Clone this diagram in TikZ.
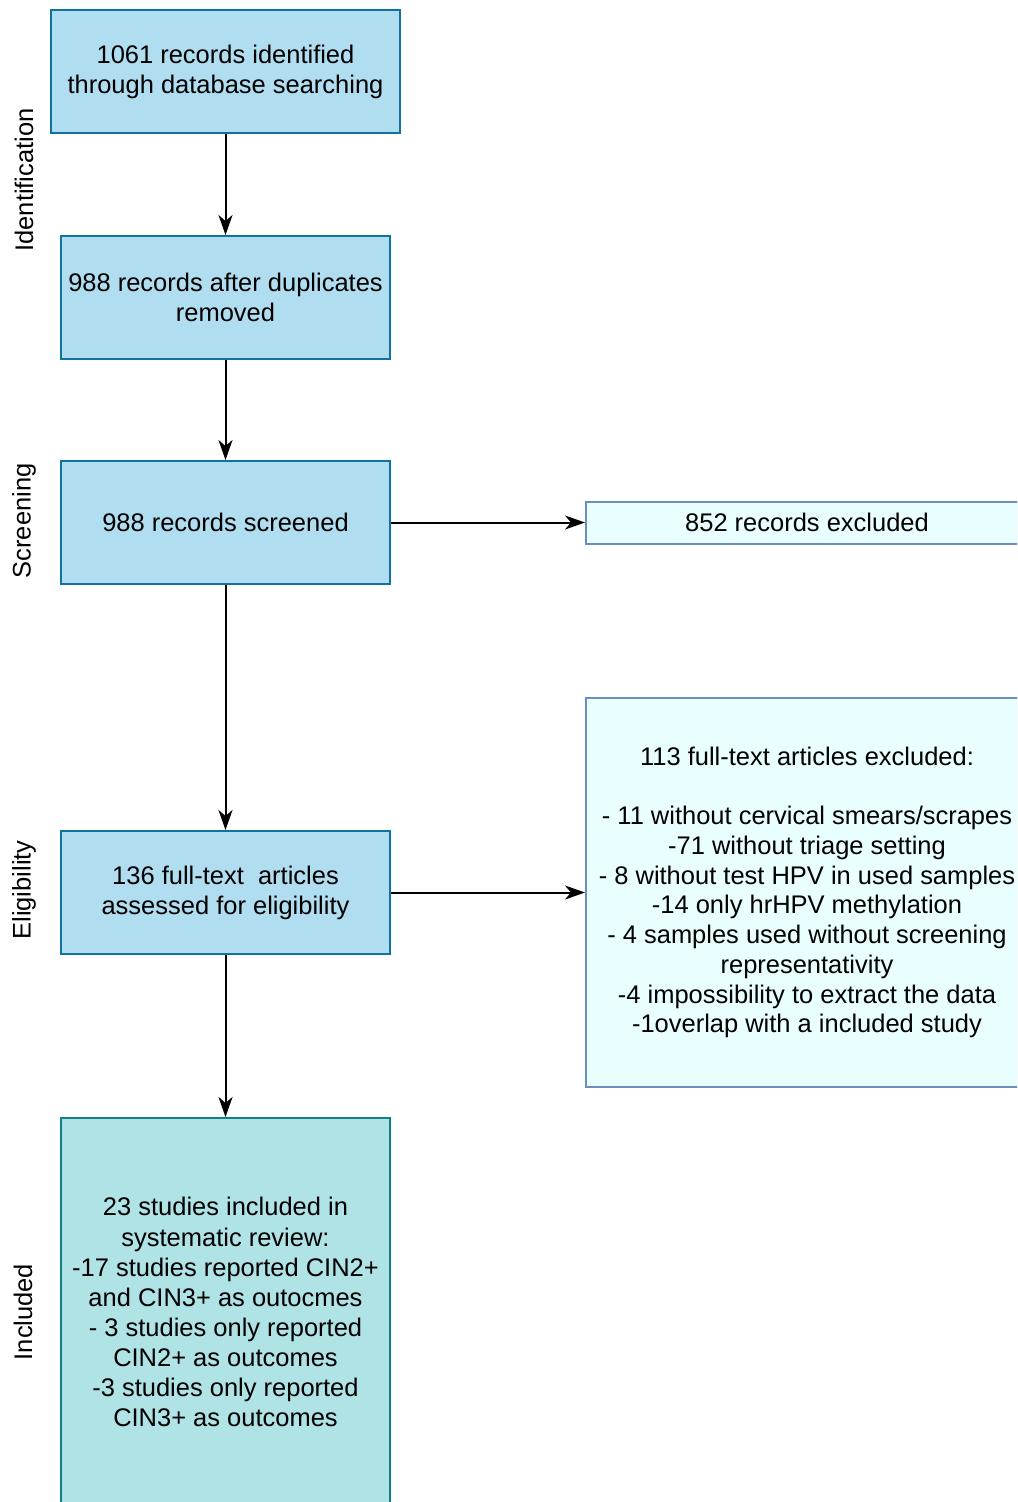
\documentclass[tikz,border=0pt]{standalone}
\usepackage{fontspec}
\setmainfont{Liberation Sans}
\usetikzlibrary{positioning,arrows.meta}
\definecolor{boxblue}{HTML}{B1DDF0}
\definecolor{lineblue}{HTML}{10739E}
\definecolor{exclfill}{HTML}{E8FEFF}
\definecolor{excldraw}{HTML}{6C8EBF}
\definecolor{inclfill}{HTML}{B0E3E6}
\definecolor{incldraw}{HTML}{0E8088}

\begin{document}
\begin{tikzpicture}[stepbox/.style={rectangle, draw=lineblue, fill=boxblue, line width=0.04cm, minimum width=6.58cm, minimum height=2.46cm, align=center, inner sep=0pt, font=\fontsize{14.5}{17.1}\selectfont}, exclbox/.style={stepbox, draw=excldraw, fill=exclfill, minimum width=8.84cm, font=\fontsize{14.5}{16.9}\selectfont}, stage/.style={rotate=90, font=\fontsize{14.5}{17}\selectfont}, flow/.style={line width=0.04cm, -{Stealth[length=0.4cm, width=0.28cm, inset=0.12cm]}}]

\clip (0,0) rectangle (20.34,-30.04);

% BOXES

\node [stepbox, minimum width=6.98cm] (records-identified) at (4.51,-1.43)
{1061 records identified\\through database searching};

\node [stepbox, below=2.02cm of records-identified] (records-duplicates)
{988 records after duplicates\\removed};

\node [stepbox, below=2.00cm of records-duplicates] (records-screened)
{988 records screened};

\node [stepbox, below=4.90cm of records-screened] (articles-assessed)
{136 full-text\ \ articles\\assessed for eligibility};

\node [stepbox, draw=incldraw, fill=inclfill, minimum height=7.76cm, below=3.24cm of articles-assessed] (studies-included)
{23 studies included in\\systematic review:\\-17 studies reported CIN2+\\and CIN3+ as outocmes\\- 3 studies only reported\\CIN2+ as outcomes\\-3 studies only reported\\CIN3+ as outcomes};

\node [exclbox, minimum height=0.84cm, right=3.88cm of records-screened] (records-excluded)
{852 records excluded};

\node [exclbox, minimum height=7.78cm, right=3.88cm of articles-assessed] (articles-excluded)
{113 full-text articles excluded:\\[16.9pt]- 11 without cervical smears/scrapes\\-71 without triage setting\\- 8 without test HPV in used samples\\-14 only hrHPV methylation\\- 4 samples used without screening\\representativity\\-4 impossibility to extract the data\\-1overlap with a included study};

% STAGES

\node [stage] (identification-label) at (0.48,-3.6) {Identification};
\node [stage] (screening-label) at (0.48,-10.42) {Screening};
\node [stage] (eligibility-label) at (0.48,-17.8) {Eligibility};
\node [stage] (included-label) at (0.46,-26.24) {Included};

% ARROWS

\draw [flow] (records-identified) -- (records-duplicates);
\draw [flow] (records-duplicates) -- (records-screened);
\draw [flow] (records-screened) -- (articles-assessed);
\draw [flow] (articles-assessed) -- (studies-included);
\draw [flow] (records-screened) -- (records-excluded);
\draw [flow] (articles-assessed) -- (articles-excluded);

\end{tikzpicture}
\end{document}
